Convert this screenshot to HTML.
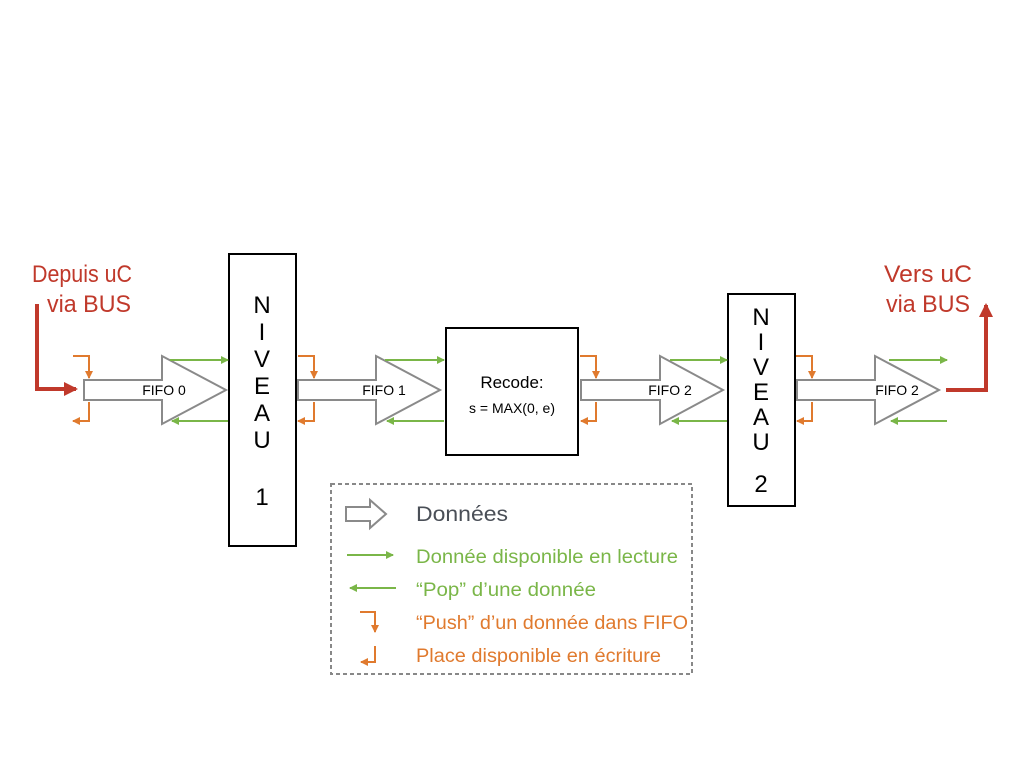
<!DOCTYPE html>
<html><head><meta charset="utf-8"><style>html,body{margin:0;padding:0;background:#fff}svg{display:block}</style></head>
<body>
<svg width="1024" height="768" viewBox="0 0 1024 768" xmlns="http://www.w3.org/2000/svg" font-family="Liberation Sans, sans-serif">
<defs>
<marker id="g" markerWidth="8" markerHeight="8" refX="7" refY="4" orient="auto" markerUnits="userSpaceOnUse"><path d="M0,0 L8,4 L0,8z" fill="#7ab648"/></marker>
<marker id="o" markerWidth="8" markerHeight="8" refX="7" refY="4" orient="auto" markerUnits="userSpaceOnUse"><path d="M0,0 L8,4 L0,8z" fill="#e07a2e"/></marker>
<marker id="r" markerWidth="14" markerHeight="14" refX="12" refY="7" orient="auto" markerUnits="userSpaceOnUse"><path d="M0,0 L14,7 L0,14z" fill="#c0392b"/></marker>
</defs>
<rect x="229" y="254" width="67" height="292" fill="#fff" stroke="#000" stroke-width="2"/>
<rect x="728" y="294" width="67" height="212" fill="#fff" stroke="#000" stroke-width="2"/>
<rect x="446" y="328" width="132" height="127" fill="#fff" stroke="#000" stroke-width="2"/>
<g font-size="24" text-anchor="middle" fill="#000">
<text x="262" y="313">N</text><text x="262" y="340">I</text><text x="262" y="367">V</text><text x="262" y="394">E</text><text x="262" y="421">A</text><text x="262" y="448">U</text><text x="262" y="505">1</text>
<text x="761" y="325">N</text><text x="761" y="350">I</text><text x="761" y="375">V</text><text x="761" y="400">E</text><text x="761" y="425">A</text><text x="761" y="450">U</text><text x="761" y="492">2</text>
</g>
<text x="512" y="388" font-size="17" text-anchor="middle">Recode:</text>
<text x="512" y="413" font-size="14" text-anchor="middle">s = MAX(0, e)</text>
<g fill="#fff" stroke="#8a8a8a" stroke-width="2">
<path d="M84,380 H162 V356 L226,390 L162,424 V400 H84z"/>
<path d="M298,380 H376 V356 L440,390 L376,424 V400 H298z"/>
<path d="M581,380 H660 V356 L723,390 L660,424 V400 H581z"/>
<path d="M797,380 H875 V356 L939,390 L875,424 V400 H797z"/>
</g>
<g font-size="14" text-anchor="middle">
<text x="164" y="395">FIFO 0</text><text x="384" y="395">FIFO 1</text><text x="670" y="395">FIFO 2</text><text x="897" y="395">FIFO 2</text>
</g>
<g stroke="#7ab648" stroke-width="2" fill="none">
<path d="M170,360 H228" marker-end="url(#g)"/><path d="M228,421 H172" marker-end="url(#g)"/>
<path d="M385,360 H444" marker-end="url(#g)"/><path d="M444,421 H387" marker-end="url(#g)"/>
<path d="M670,360 H727" marker-end="url(#g)"/><path d="M727,421 H672" marker-end="url(#g)"/>
<path d="M889,360 H947" marker-end="url(#g)"/><path d="M947,421 H891" marker-end="url(#g)"/>
</g>
<g stroke="#e07a2e" stroke-width="2" fill="none">
<path d="M73,356 H89 V378" marker-end="url(#o)"/><path d="M89,402 V421 H73" marker-end="url(#o)"/>
<path d="M298,356 H314 V378" marker-end="url(#o)"/><path d="M314,402 V421 H298" marker-end="url(#o)"/>
<path d="M580,356 H596 V378" marker-end="url(#o)"/><path d="M596,402 V421 H581" marker-end="url(#o)"/>
<path d="M796,356 H812 V378" marker-end="url(#o)"/><path d="M812,402 V421 H797" marker-end="url(#o)"/>
</g>
<g stroke="#c0392b" stroke-width="4" fill="none">
<path d="M37,304 V389 H76" marker-end="url(#r)"/>
<path d="M946,390 H986 V305" marker-end="url(#r)"/>
</g>
<g fill="#c0392b" font-size="24" text-anchor="middle">
<text x="82" y="282" textLength="100" lengthAdjust="spacingAndGlyphs">Depuis uC</text><text x="89" y="312" textLength="84" lengthAdjust="spacingAndGlyphs">via BUS</text>
<text x="928" y="282" textLength="88" lengthAdjust="spacingAndGlyphs">Vers uC</text><text x="928" y="312" textLength="84" lengthAdjust="spacingAndGlyphs">via BUS</text>
</g>
<rect x="331" y="484" width="361" height="190" fill="none" stroke="#888" stroke-width="2" stroke-dasharray="4,3"/>
<path d="M346,507 H370 V500 L386,514 L370,528 V521 H346z" fill="#fff" stroke="#8a8a8a" stroke-width="2"/>
<text x="416" y="521" font-size="21" fill="#4a4f57" textLength="92" lengthAdjust="spacingAndGlyphs">Données</text>
<path d="M347,555 H393" stroke="#7ab648" stroke-width="2" marker-end="url(#g)"/>
<path d="M396,588 H350" stroke="#7ab648" stroke-width="2" marker-end="url(#g)"/>
<path d="M360,612 H375 V632" stroke="#e07a2e" stroke-width="2" fill="none" marker-end="url(#o)"/>
<path d="M375,646 V662 H361" stroke="#e07a2e" stroke-width="2" fill="none" marker-end="url(#o)"/>
<g font-size="19" lengthAdjust="spacingAndGlyphs">
<text x="416" y="563" fill="#7ab648" textLength="262" lengthAdjust="spacingAndGlyphs">Donnée disponible en lecture</text>
<text x="416" y="596" fill="#7ab648" textLength="180" lengthAdjust="spacingAndGlyphs">“Pop” d’une donnée</text>
<text x="416" y="629" fill="#e07a2e" textLength="272" lengthAdjust="spacingAndGlyphs">“Push” d’un donnée dans FIFO</text>
<text x="416" y="662" fill="#e07a2e" textLength="245" lengthAdjust="spacingAndGlyphs">Place disponible en écriture</text>
</g>
</svg>
</body></html>
